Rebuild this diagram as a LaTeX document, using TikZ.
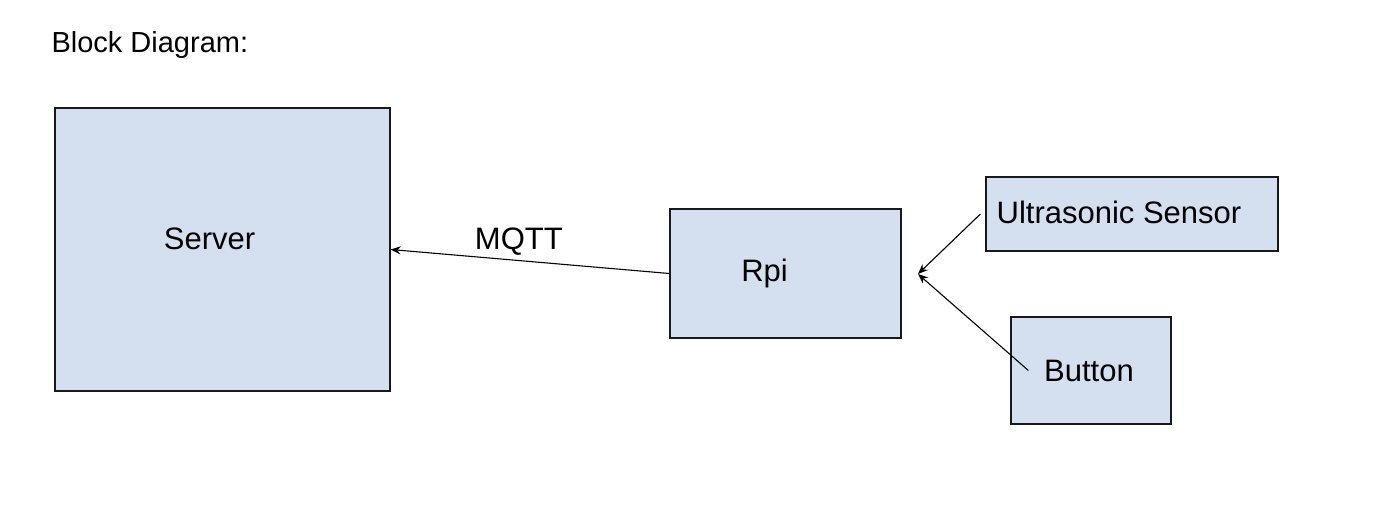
\documentclass[tikz,border=0pt]{standalone}
\usepackage{fontspec}
\setmainfont{Liberation Sans}
\usetikzlibrary{arrows.meta}
\tikzset{block/.style = {draw = black!90, line width = 1.2pt, fill = blockblue, inner sep = 0pt}}
\tikzset{every label/.append style = {font = \fontsize{31}{37}\selectfont}}
\tikzset{link/.style = {-{Stealth[length = 10pt, width = 8pt]}, line width = 1.1pt}}
\definecolor{blockblue}{HTML}{D4E0F0}

\begin{document}
\begin{tikzpicture}[x = 1pt, y = -1pt, font = \fontsize{31}{37}\selectfont]
\useasboundingbox (0,0) rectangle (1384,520);
\node [anchor = west, font = \fontsize{29}{35}\selectfont] (title) at (48,45) {Block Diagram:};
% blocks
\node [block, minimum width = 335pt, minimum height = 283pt,
  label = {[xshift = -13pt, yshift = 11pt]center:Server}] (server) at (222.5,249.5) {};
\node [block, minimum width = 231pt, minimum height = 129pt,
  label = {[xshift = -21pt]center:Rpi}] (rpi) at (785.5,273.5) {};
\node [block, minimum width = 292pt, minimum height = 74pt,
  label = {[xshift = -13pt, yshift = 2pt]center:Ultrasonic Sensor}] (sensor) at (1132,214) {};
\node [block, minimum width = 160pt, minimum height = 107pt,
  label = {[xshift = -2pt]center:Button}] (button) at (1091,370.5) {};
% connectors
\coordinate (rpiin) at (918,274);
\draw [link] (rpi.west) -- (server.east) node [pos = 0.54, above = 1pt] (mqtt) {MQTT};
\draw [link] ([xshift = -5pt]sensor.west) -- (rpiin);
\draw [link] ([xshift = 18pt]button.west) -- (rpiin);
\end{tikzpicture}
\end{document}
